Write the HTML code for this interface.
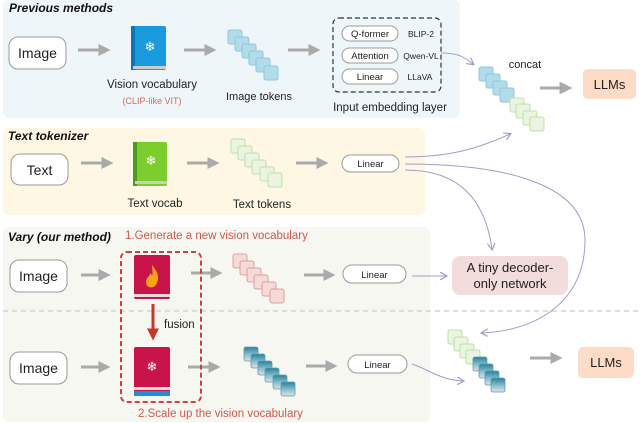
<!DOCTYPE html>
<html><head><meta charset="utf-8"><style>
body{margin:0;background:#fff}
svg{display:block;font-family:"Liberation Sans",sans-serif}
</style></head><body>
<svg width="640" height="423" viewBox="0 0 640 423" xmlns="http://www.w3.org/2000/svg">
<defs>
<marker id="ga" markerWidth="4" markerHeight="4" refX="2.5" refY="2" orient="auto" markerUnits="strokeWidth"><path d="M0,0 L4,2 L0,4 z" fill="#aaa"/></marker>
<marker id="pa" markerWidth="8" markerHeight="8" refX="6" refY="4" orient="auto" markerUnits="userSpaceOnUse"><path d="M0,0 L7,4 L0,8" fill="none" stroke="#a79bc4" stroke-width="1.2"/></marker>
<marker id="ra" markerWidth="4" markerHeight="4" refX="2.5" refY="2" orient="auto" markerUnits="strokeWidth"><path d="M0,0 L4,2 L0,4 z" fill="#c0392b"/></marker>
<linearGradient id="tg" x1="0" y1="0" x2="0" y2="1"><stop offset="0" stop-color="#2f7f96"/><stop offset="0.6" stop-color="#8cc7d6"/><stop offset="1" stop-color="#f3d9da"/></linearGradient>
<g id="tb"><rect width="14" height="14" rx="2" fill="#b3dcea" stroke="#8cc7dc" stroke-width="1"/></g>
<g id="tgn"><rect width="14" height="14" rx="2" fill="#eaf4e0" stroke="#bfe0a8" stroke-width="1"/></g>
<g id="tp"><rect width="14" height="14" rx="2" fill="#f6d9d9" stroke="#dca0a0" stroke-width="1"/></g>
<g id="tt"><rect width="14" height="14" rx="2" fill="url(#tg)" stroke="#5a9fb5" stroke-width="0.8"/></g>
</defs>
<!-- panels -->
<rect x="3" y="0" width="457" height="118" rx="6" fill="#eef6f9"/>
<rect x="3" y="128" width="422" height="87" rx="6" fill="#fdf7e4"/>
<rect x="3" y="227" width="427" height="195" rx="6" fill="#f7f7f1"/>
<line x1="3" y1="311" x2="640" y2="311" stroke="#ccc" stroke-width="1.2" stroke-dasharray="5,4"/>
<g font-weight="bold" font-style="italic" font-size="12" fill="#111">
<text x="9" y="12">Previous methods</text>
<text x="8" y="140">Text tokenizer</text>
<text x="8" y="241">Vary (our method)</text>
</g>
<!-- panel 1 -->
<rect x="9" y="37" width="57" height="32" rx="9" fill="#fff" stroke="#999" stroke-width="1"/>
<text x="37.5" y="58" font-size="14" text-anchor="middle" fill="#222">Image</text>
<g stroke="#aaa" stroke-width="3" marker-end="url(#ga)">
<line x1="78" y1="50" x2="106" y2="50"/>
<line x1="184" y1="50" x2="212" y2="50"/>
<line x1="288" y1="50" x2="316" y2="50"/>
<line x1="220" y1="88" x2="567" y2="88" stroke="none"/>
<line x1="540" y1="88" x2="568" y2="88"/>
<line x1="81" y1="163" x2="109" y2="163"/>
<line x1="187" y1="163" x2="215" y2="163"/>
<line x1="296" y1="163" x2="324" y2="163"/>
<line x1="66" y1="275" x2="106" y2="275" stroke="none"/>
<line x1="81" y1="275" x2="106" y2="275"/>
<line x1="191" y1="273" x2="218" y2="273"/>
<line x1="304" y1="275" x2="331" y2="275"/>
<line x1="81" y1="367" x2="106" y2="367"/>
<line x1="188" y1="367" x2="216" y2="367"/>
<line x1="306" y1="366" x2="333" y2="366"/>
<line x1="530" y1="358" x2="558" y2="358"/>
</g>
<!-- blue book -->
<rect x="131" y="26" width="35" height="44" rx="2" fill="#1a9be0"/>
<rect x="131" y="26" width="4" height="44" fill="#0f76b5"/>
<rect x="133" y="66" width="33" height="3" fill="#ccc"/>
<text x="150" y="51" font-size="13" text-anchor="middle" fill="#fff">❄</text>
<text x="152" y="88" font-size="11.5" text-anchor="middle" fill="#222">Vision vocabulary</text>
<text x="152" y="104" font-size="9" text-anchor="middle" fill="#d96a5a">(CLIP-like VIT)</text>
<use href="#tb" x="228" y="30"/><use href="#tb" x="235" y="37"/><use href="#tb" x="242" y="44"/><use href="#tb" x="249" y="51"/><use href="#tb" x="256" y="58"/><use href="#tb" x="264" y="66"/>
<text x="259" y="100" font-size="11" text-anchor="middle" fill="#222">Image tokens</text>
<rect x="333" y="18" width="108" height="74" rx="6" fill="none" stroke="#333" stroke-width="1.2" stroke-dasharray="5,3"/>
<g fill="#fff" stroke="#999" stroke-width="1">
<rect x="342" y="26" width="56" height="15" rx="7.5"/>
<rect x="342" y="48" width="56" height="15" rx="7.5"/>
<rect x="342" y="69" width="56" height="15" rx="7.5"/>
</g>
<g font-size="9.5" fill="#222" text-anchor="middle">
<text x="370" y="37">Q-former</text><text x="370" y="59">Attention</text><text x="370" y="80">Linear</text>
<text x="421" y="37" font-size="8.5">BLIP-2</text><text x="421" y="59" font-size="8.5">Qwen-VL</text><text x="420" y="80" font-size="8.5">LLaVA</text>
</g>
<text x="390" y="111" font-size="11.5" text-anchor="middle" fill="#222">Input embedding layer</text>
<path d="M441,53 C460,53 465,58 473,64" fill="none" stroke="#a79bc4" stroke-width="1" marker-end="url(#pa)"/>
<text x="525" y="68" font-size="11" text-anchor="middle" fill="#222">concat</text>
<use href="#tb" x="479" y="67"/><use href="#tb" x="486" y="74"/><use href="#tb" x="493" y="81"/><use href="#tb" x="500" y="88"/>
<use href="#tgn" x="510" y="98"/><use href="#tgn" x="516" y="104"/><use href="#tgn" x="523" y="111"/><use href="#tgn" x="530" y="117"/>
<rect x="583" y="69" width="53" height="30" rx="5" fill="#fcdcc6"/>
<text x="609.5" y="89" font-size="13" text-anchor="middle" fill="#222">LLMs</text>
<!-- panel 2 -->
<rect x="11" y="154" width="57" height="31" rx="9" fill="#fff" stroke="#999" stroke-width="1"/>
<text x="39.5" y="175" font-size="14" text-anchor="middle" fill="#222">Text</text>
<rect x="133" y="142" width="34" height="44" rx="2" fill="#7bce2e"/>
<rect x="133" y="142" width="4" height="44" fill="#4e9a1e"/>
<rect x="135" y="181" width="32" height="3" fill="#ccc"/>
<text x="151" y="165" font-size="13" text-anchor="middle" fill="#fff">❄</text>
<text x="155" y="207" font-size="11.5" text-anchor="middle" fill="#222">Text vocab</text>
<use href="#tgn" x="231" y="139"/><use href="#tgn" x="238" y="146"/><use href="#tgn" x="245" y="153"/><use href="#tgn" x="252" y="160"/><use href="#tgn" x="260" y="167"/><use href="#tgn" x="268" y="173"/>
<text x="262" y="208" font-size="11.5" text-anchor="middle" fill="#222">Text tokens</text>
<rect x="342" y="155" width="57" height="17" rx="8.5" fill="#fff" stroke="#999" stroke-width="1"/>
<text x="370.5" y="167" font-size="9.5" text-anchor="middle" fill="#222">Linear</text>
<g fill="none" stroke="#a79bc4" stroke-width="1">
<path d="M405,157 C450,157 480,148 510,134" marker-end="url(#pa)"/>
<path d="M405,170 C460,170 485,200 492,249" marker-end="url(#pa)"/>
<path d="M405,164 C520,164 585,190 585,240 C585,300 540,330 482,333" marker-end="url(#pa)"/>
<path d="M412,276 L446,276" marker-end="url(#pa)"/>
<path d="M412,364 C430,370 440,380 463,381" marker-end="url(#pa)"/>
</g>
<!-- panel 3 -->
<text x="125" y="239" font-size="11.5" fill="#d0584a">1.Generate a new vision vocabulary</text>
<rect x="10" y="260" width="57" height="32" rx="9" fill="#fff" stroke="#999" stroke-width="1"/>
<text x="38.5" y="281" font-size="14" text-anchor="middle" fill="#222">Image</text>
<rect x="10" y="352" width="57" height="32" rx="9" fill="#fff" stroke="#999" stroke-width="1"/>
<text x="38.5" y="373" font-size="14" text-anchor="middle" fill="#222">Image</text>
<rect x="121" y="252" width="80" height="150" rx="6" fill="none" stroke="#c9443a" stroke-width="2" stroke-dasharray="5,3"/>
<rect x="134" y="255" width="36" height="44" rx="2" fill="#c8144a"/>
<rect x="134" y="294" width="36" height="3" fill="#ddd"/>
<path d="M152,265 C158,272 160,278 156,285 C153,289 146,288 146,282 C146,277 150,277 150,273 C153,276 153,278 152,265z" fill="#f6a416"/>
<line x1="153" y1="304" x2="153" y2="336" stroke="#c0392b" stroke-width="3" marker-end="url(#ra)"/>
<text x="164" y="328" font-size="11.5" fill="#222">fusion</text>
<rect x="134" y="347" width="36" height="46" rx="2" fill="#c8144a"/>
<rect x="134" y="387" width="36" height="3" fill="#ddd"/>
<rect x="134" y="391" width="36" height="5" fill="#1d8fd6"/>
<text x="152" y="371" font-size="13" text-anchor="middle" fill="#fff">❄</text>
<text x="138" y="417" font-size="11.5" fill="#d0584a">2.Scale up the vision vocabulary</text>
<use href="#tp" x="233" y="254"/><use href="#tp" x="240" y="261"/><use href="#tp" x="247" y="268"/><use href="#tp" x="254" y="275"/><use href="#tp" x="262" y="282"/><use href="#tp" x="270" y="289"/>
<use href="#tt" x="244" y="347"/><use href="#tt" x="251" y="354"/><use href="#tt" x="258" y="361"/><use href="#tt" x="265" y="368"/><use href="#tt" x="273" y="375"/><use href="#tt" x="281" y="382"/>
<rect x="343" y="265" width="63" height="18" rx="9" fill="#fff" stroke="#999" stroke-width="1"/>
<text x="374.5" y="278" font-size="9.5" text-anchor="middle" fill="#222">Linear</text>
<rect x="348" y="355" width="59" height="18" rx="9" fill="#fff" stroke="#999" stroke-width="1"/>
<text x="377.5" y="368" font-size="9.5" text-anchor="middle" fill="#222">Linear</text>
<rect x="452" y="256" width="116" height="39" rx="8" fill="#f2dcdc"/>
<text x="510" y="272" font-size="13" text-anchor="middle" fill="#222">A tiny decoder-</text>
<text x="510" y="288" font-size="13" text-anchor="middle" fill="#222">only network</text>
<use href="#tgn" x="448" y="330"/><use href="#tgn" x="454" y="337"/><use href="#tgn" x="460" y="344"/><use href="#tgn" x="466" y="350"/>
<use href="#tt" x="473" y="357"/><use href="#tt" x="479" y="364"/><use href="#tt" x="485" y="371"/><use href="#tt" x="491" y="378"/>
<rect x="578" y="347" width="56" height="31" rx="5" fill="#fcdcc6"/>
<text x="606" y="367" font-size="13" text-anchor="middle" fill="#222">LLMs</text>
</svg>
</body></html>
